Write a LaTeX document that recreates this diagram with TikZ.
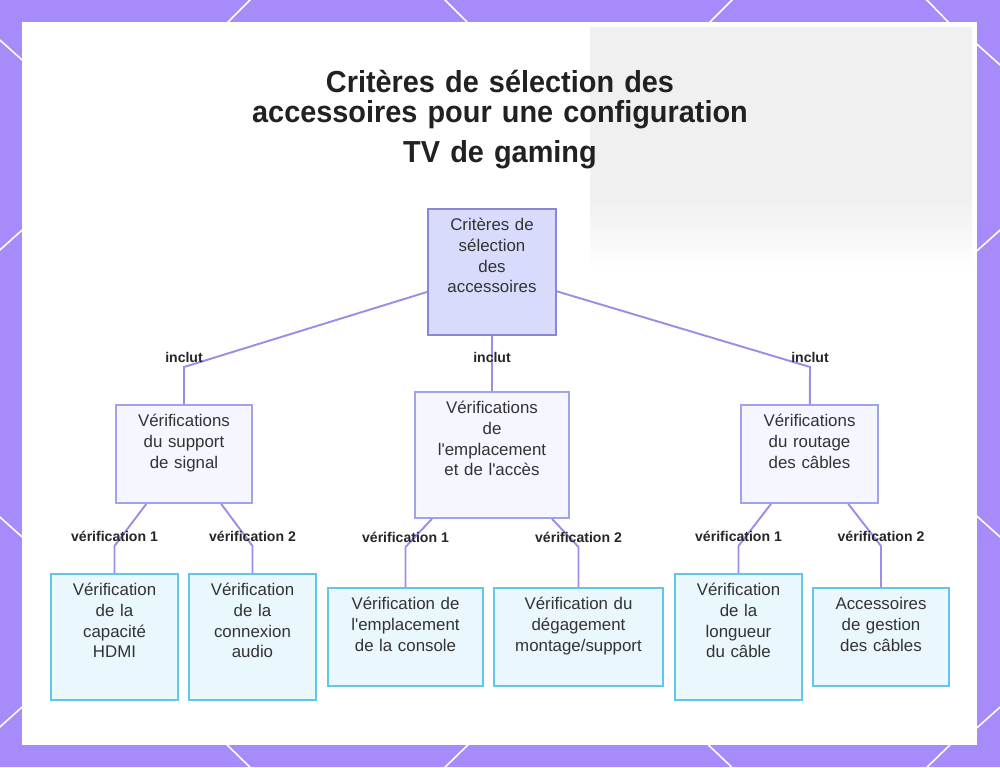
\documentclass[tikz,border=0pt]{standalone}
\usepackage{fontspec}
\setmainfont{Liberation Sans}
\newfontfamily\titlefont[FakeStretch=0.95]{Liberation Sans}

\definecolor{bgpurple}{HTML}{A78BFA}
\definecolor{photo}{HTML}{F0F0F0}
\definecolor{linkcol}{HTML}{A08CE6}
\definecolor{rootfill}{HTML}{D9DBFC}
\definecolor{rootdraw}{HTML}{8A86D8}
\definecolor{midfill}{HTML}{F5F6FF}
\definecolor{middraw}{HTML}{9FA3EB}
\definecolor{leaffill}{HTML}{EAF7FD}
\definecolor{leafdraw}{HTML}{62C6E6}
\definecolor{txt}{HTML}{333333}

\begin{document}
\begin{tikzpicture}[
        x = 0.02cm, y = -0.02cm,
        box/.style = {draw, line width = 1.1pt, align = center, anchor = north, text = txt,
            inner xsep = 0pt, inner ysep = 0pt, text height = 0.44cm,
            font = \fontsize{9.6}{11.7}\selectfont},
        tall/.style = {box, text depth = 2.08cm},
        short/.style = {box, text depth = 1.52cm},
        crit/.style = {tall, fill = rootfill, draw = rootdraw},
        check/.style = {fill = midfill, draw = middraw},
        item/.style = {fill = leaffill, draw = leafdraw},
        link/.style = {draw = linkcol, line width = 1.1pt},
        tag/.style = {font = \fontsize{8}{9}\bfseries\selectfont, text = black!85, inner sep = 2pt},
        deco/.style = {white, line width = 0.9pt}
    ]
    % frame
    \useasboundingbox (0,0) rectangle (1000,767);
    \fill[bgpurple] (0,0) rectangle (1000,767);
    \foreach \xa/\ya/\xb/\yb in {256/-6/220/30, 439/-6/475/30, 738/-6/702/30, 921/-6/956/30,
            219/737/258/775, 476/737/437/775, 700/737/740/775, 958/737/919/775,
            -8/33/30/67, -8/257/30/223, -8/510/30/544, -8/734/30/700,
            970/38/1008/72, 970/257/1008/223, 970/510/1008/544, 970/734/1008/700}
        \draw[deco] (\xa,\ya) -- (\xb,\yb);
    \fill[white] (22,22) rectangle (977,745);
    \fill[photo] (590,27) rectangle (972,200);
    \shade[top color = photo, bottom color = white] (590,199) rectangle (972,270);

    \node[font = \titlefont\fontsize{17.3}{17.6}\bfseries\selectfont, text = black!87,
        align = center, text width = 12cm, anchor = base] (title) at (500,92)
        {Critères de sélection des\\accessoires pour une configuration\\[5.2pt]TV de gaming};

    % tree
    \node[crit, text width = 2.56cm] (root) at (492,208) {Critères de\\sélection\\des\\accessoires};

    \node[short, check, text width = 2.72cm] (signal) at (184,404) {Vérifications\\du support\\de signal};
    \node[tall, check, text width = 3.08cm] (place) at (492,391) {Vérifications\\de\\l\textquotesingle emplacement\\et de l\textquotesingle accès};
    \node[short, check, text width = 2.74cm] (routing) at (809.5,404) {Vérifications\\du routage\\des câbles};

    \node[tall, item, text width = 2.54cm] (hdmi) at (114.5,573) {Vérification\\de la\\capacité\\HDMI};
    \node[tall, item, text width = 2.54cm] (audio) at (252.5,573) {Vérification\\de la\\connexion\\audio};
    \node[short, item, text width = 3.10cm] (console) at (405.5,587) {Vérification de\\l\textquotesingle emplacement\\de la console};
    \node[short, item, text width = 3.38cm] (mount) at (578.5,587) {Vérification du\\dégagement\\montage/support};
    \node[tall, item, text width = 2.54cm] (length) at (738.5,573) {Vérification\\de la\\longueur\\du câble};
    \node[short, item, text width = 2.72cm] (tidy) at (881,587) {Accessoires\\de gestion\\des câbles};

    \coordinate (in1) at (184,367);
    \coordinate (in2) at (492,367);
    \coordinate (in3) at (810,367);
    \coordinate (v11) at (114.5,546);
    \coordinate (v12) at (252.5,546);
    \coordinate (v21) at (405.5,547);
    \coordinate (v22) at (578.5,547);
    \coordinate (v31) at (738.5,546);
    \coordinate (v32) at (881,546);

    \path[link]
        (root)    -- (in1) node[tag, above] {inclut} -- (signal)
        (root)    -- (in2) node[tag, above] {inclut} -- (place)
        (root)    -- (in3) node[tag, above] {inclut} -- (routing)
        (signal)  -- (v11) node[tag, above] {vérification 1} -- (hdmi)
        (signal)  -- (v12) node[tag, above] {vérification 2} -- (audio)
        (place)   -- (v21) node[tag, above] {vérification 1} -- (console)
        (place)   -- (v22) node[tag, above] {vérification 2} -- (mount)
        (routing) -- (v31) node[tag, above] {vérification 1} -- (length)
        (routing) -- (v32) node[tag, above] {vérification 2} -- (tidy);
\end{tikzpicture}
\end{document}
